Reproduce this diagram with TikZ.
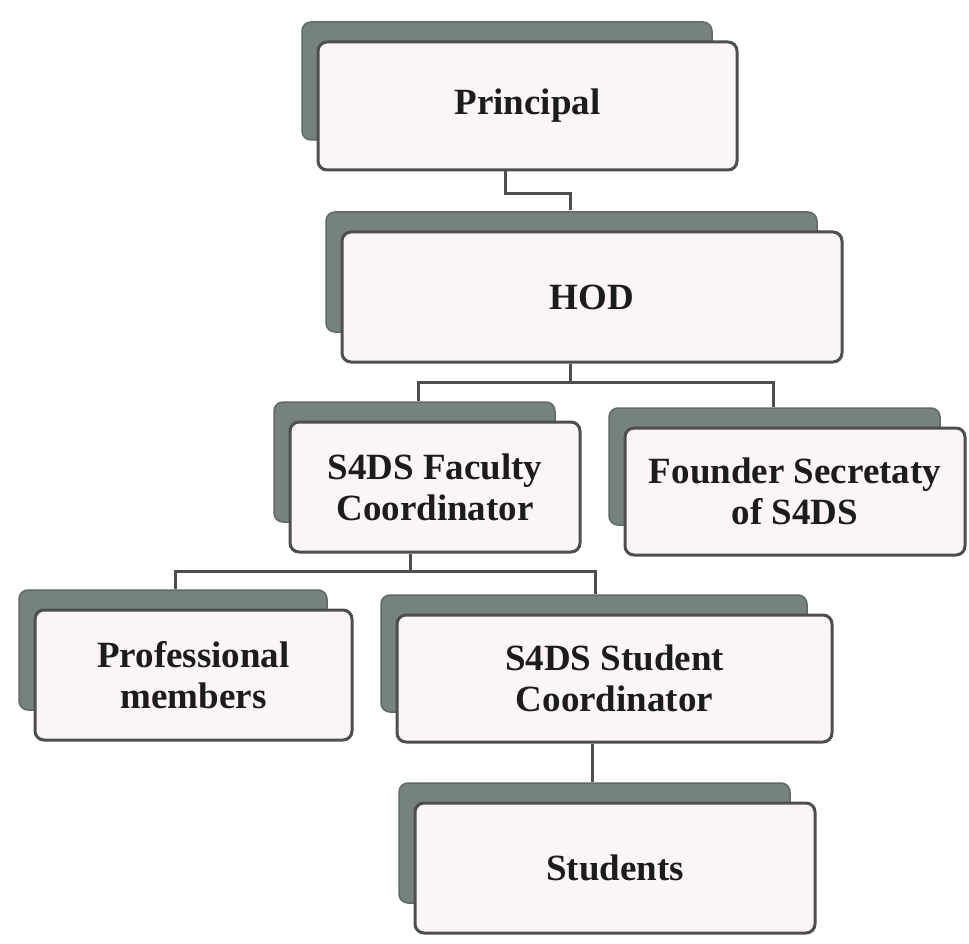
\documentclass[tikz,border=0pt]{standalone}
\usepackage{fontspec}
\setmainfont{Liberation Serif}
\usetikzlibrary{calc}
\definecolor{shadowc}{HTML}{76827D}
\definecolor{shadowd}{HTML}{5F6A66}
\definecolor{boxfill}{HTML}{FCF5F7}
\definecolor{boxline}{HTML}{4E4E4E}
\definecolor{txt}{HTML}{1C1C1C}
\tikzset{
  orgnode/.style={draw=boxline, line width=3pt, fill=boxfill, rounded corners=9pt,
    align=center, text=txt, font=\fontsize{37}{41}\selectfont\bfseries, inner sep=0pt},
  orgshadow/.style={fill=shadowc, draw=shadowd, line width=1.5pt, rounded corners=9pt},
  conn/.style={draw=boxline, line width=3pt}
}
\newcommand\orgbox[6]{%
  \path[orgshadow] (#2-#4/2-16, #3-#5/2-20) rectangle (#2+#4/2-25, #3+#5/2-30);
  \node[orgnode, minimum width=#4pt, minimum height=#5pt] (#1) at (#2,#3) {#6};
}
\begin{document}
\begin{tikzpicture}[x=1pt,y=-1pt]
\useasboundingbox[fill=white] (0,0) rectangle (969,944);
\orgbox{P}{527.5}{106}{419}{128}{Principal}
\orgbox{H}{592}{297}{500}{130}{HOD}
\orgbox{F}{435}{487}{290}{130}{S4DS Faculty\\Coordinator}
\orgbox{Fo}{795}{491.5}{340}{127}{Founder Secretaty\\of S4DS}
\orgbox{Pr}{193.5}{675}{317}{130}{Professional\\members}
\orgbox{SC}{614.5}{678.5}{435}{127}{S4DS Student\\Coordinator}
\orgbox{St}{615}{868}{400}{130}{Students}
% connectors
\draw[conn] ([xshift=-22.5pt]P.south) -- ++(0,22) -| ([xshift=-22pt,yshift=20pt]H.north);
\draw[conn] ([xshift=-22pt]H.south) -- ++(0,19) coordinate (h1);
\draw[conn] ([xshift=-17pt,yshift=20pt]F.north) |- (h1) -| ([xshift=-22pt,yshift=20pt]Fo.north);
\draw[conn] ([xshift=-25pt]F.south) -- ++(0,18) coordinate (f1);
\draw[conn] ([xshift=-18.5pt,yshift=20pt]Pr.north) |- (f1) -| ([xshift=-19.5pt,yshift=20pt]SC.north);
\draw[conn] ([xshift=-22.5pt]SC.south) -- ([xshift=-23pt,yshift=20pt]St.north);
\end{tikzpicture}
\end{document}
